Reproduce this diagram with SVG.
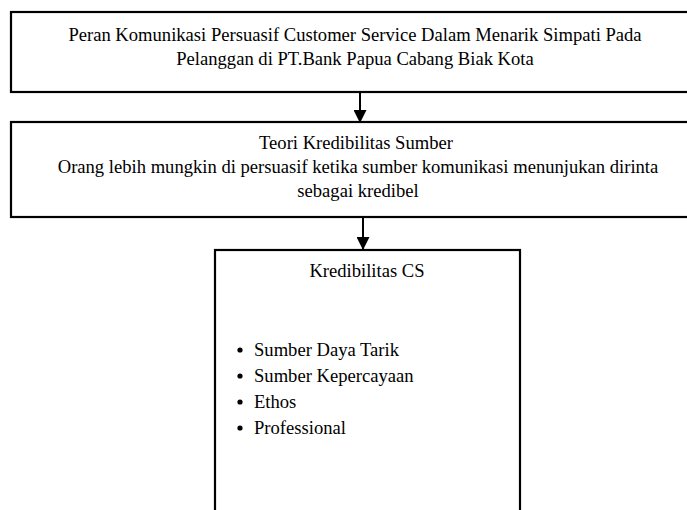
<svg xmlns="http://www.w3.org/2000/svg" width="687" height="510" viewBox="0 0 687 510">
<defs>
<style>
.box{fill:#fff;stroke:#000;stroke-width:2.2}
.t{font-family:"Liberation Serif","Times New Roman",serif;font-size:18.6px;fill:#000}
.c{text-anchor:middle}
.conn{stroke:#000;stroke-width:2;fill:none}
</style>
<marker id="ah" markerWidth="14" markerHeight="13" refX="13" refY="7" orient="auto" markerUnits="userSpaceOnUse" viewBox="0 0 14 14">
<path d="M0,0 L14,7 L0,14 Z" fill="#000"/>
</marker>
</defs>
<rect width="687" height="510" fill="#fff"/>
<g id="node-peran">
<rect class="box" x="11" y="12" width="700" height="80"/>
<text class="t c" x="355" y="41">Peran Komunikasi Persuasif Customer Service Dalam Menarik Simpati Pada</text>
<text class="t c" x="355" y="65">Pelanggan di PT.Bank Papua Cabang Biak Kota</text>
</g>
<g id="node-teori">
<rect class="box" x="11" y="122" width="700" height="95"/>
<text class="t c" x="356" y="149">Teori Kredibilitas Sumber</text>
<text class="t c" x="358" y="173">Orang lebih mungkin di persuasif ketika sumber komunikasi menunjukan dirinta</text>
<text class="t c" x="358" y="197">sebagai kredibel</text>
</g>
<g id="node-kredibilitas">
<rect class="box" x="215" y="250" width="305" height="280"/>
<text class="t c" x="367" y="277">Kredibilitas CS</text>
<circle cx="240" cy="350" r="2.6"/>
<text class="t" x="254" y="356">Sumber Daya Tarik</text>
<circle cx="240" cy="376" r="2.6"/>
<text class="t" x="254" y="382">Sumber Kepercayaan</text>
<circle cx="240" cy="402" r="2.6"/>
<text class="t" x="254" y="408">Ethos</text>
<circle cx="240" cy="428" r="2.6"/>
<text class="t" x="254" y="434">Professional</text>
</g>
<g id="connectors">
<line class="conn" x1="360" y1="93" x2="360" y2="122" marker-end="url(#ah)"/>
<line class="conn" x1="363" y1="218" x2="363" y2="249" marker-end="url(#ah)"/>
</g>
</svg>
